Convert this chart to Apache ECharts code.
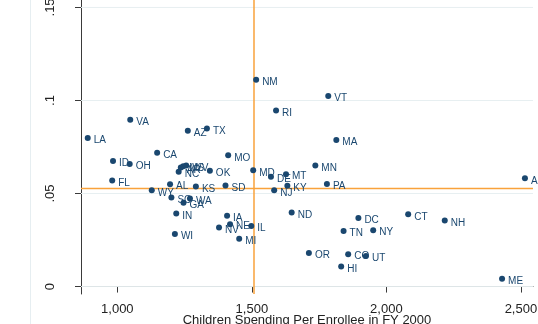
<!DOCTYPE html>
<html>
<head>
<meta charset="utf-8">
<script src="https://cdn.jsdelivr.net/npm/echarts@6/dist/echarts.min.js"></script>
<style>
  html, body { margin: 0; padding: 0; background: #fff; }
  #chart { width: 538px; height: 324px; }
</style>
</head>
<body>
<div id="chart"></div>
<script>
// State abbreviations, spending per enrollee (x) and share (y)
const states = ['NM','VT','RI','VA','AZ','TX','LA','CA','MO','ID','OH','WV','MS','AR','NC','OK','MD','DE','MT','MN','MA','AK','FL','AL','KS','SD','PA','KY','NJ','WY','SC','WA','GA','IN','ND','IA','DC','CT','NH','NE','NV','IL','TN','NY','WI','MI','OR','CO','UT','HI','ME'];
const spending = [1516,1784,1590,1048,1262,1333,890,1148,1412,984,1046,1256,1245,1236,1228,1344,1505,1571,1627,1736,1814,2515,981,1196,1292,1402,1779,1632,1583,1128,1201,1270,1246,1219,1648,1408,1896,2081,2217,1419,1378,1498,1841,1951,1214,1453,1712,1858,1924,1832,2430];
const share = [0.1112,0.1024,0.0946,0.0897,0.0838,0.0849,0.0799,0.0719,0.0705,0.0675,0.0659,0.0651,0.0647,0.0640,0.0617,0.0623,0.0625,0.0590,0.0604,0.0651,0.0788,0.0582,0.0570,0.0550,0.0538,0.0543,0.0551,0.0542,0.0517,0.0517,0.0478,0.0473,0.0450,0.0393,0.0398,0.0381,0.0369,0.0388,0.0355,0.0335,0.0318,0.0325,0.0298,0.0303,0.0283,0.0257,0.0181,0.0174,0.0164,0.0108,0.0042];

const xTicks = [1000, 1500, 2000, 2500];
const yTicks = [0, 0.05, 0.1, 0.15];
const meanSpending = 1508;
const meanShare = 0.0527;

const xMin = 865, xMax = 2545;
const yMin = -0.004, yMax = 0.154;

const navy = '#1a476f';
const orange = '#f9a23b';

const points = states.map((s, i) => ({ name: s, value: [spending[i], share[i]] }));

const chart = echarts.init(document.getElementById('chart'), null, { renderer: 'canvas' });
chart.setOption({
  animation: false,
  backgroundColor: '#ffffff',
  graphic: [{
    type: 'line', z: -10,
    shape: { x1: 30.5, y1: 0, x2: 30.5, y2: 324 },
    style: { stroke: '#e6eef1', lineWidth: 1 }
  }],
  grid: { left: 81, right: 5, top: 0, bottom: 30, outerBoundsMode: 'none' },
  xAxis: {
    type: 'value', min: xMin, max: xMax,
    axisLine: { show: true, lineStyle: { color: '#3a3a3a', width: 1 } },
    axisTick: { show: true, length: 6, customValues: xTicks, lineStyle: { color: '#3a3a3a' } },
    axisLabel: {
      customValues: xTicks, margin: 9, color: '#222', fontSize: 13,
      fontFamily: 'Liberation Sans, Arial, sans-serif',
      formatter: v => Number(v).toLocaleString('en-US')
    },
    splitLine: { show: false },
    name: 'Children Spending Per Enrollee in FY 2000',
    nameLocation: 'middle', nameGap: 20, nameMoveOverlap: false,
    nameTextStyle: { color: '#222', fontSize: 13, fontFamily: 'Liberation Sans, Arial, sans-serif' }
  },
  yAxis: {
    type: 'value', min: yMin, max: yMax,
    axisLine: { show: true, lineStyle: { color: '#3a3a3a', width: 1 } },
    axisTick: { show: true, length: 6, customValues: yTicks, lineStyle: { color: '#3a3a3a' } },
    axisLabel: {
      customValues: yTicks, rotate: 90, margin: 24, color: '#222', fontSize: 13,
      fontFamily: 'Liberation Sans, Arial, sans-serif',
      formatter: v => String(+Number(v).toFixed(2)).replace(/^0\./, '.')
    },
    splitLine: { show: false }
  },
  series: [
    // horizontal reference grid
    ...yTicks.map(t => ({
      type: 'line', silent: true, z: 1, symbol: 'none',
      lineStyle: { color: '#e7eff1', width: 1 },
      data: [[xMin, t], [xMax, t]]
    })),
    // mean lines
    {
      type: 'line', silent: true, z: 2, symbol: 'none',
      lineStyle: { color: orange, width: 1.5 },
      data: [[meanSpending, yMin], [meanSpending, yMax]]
    },
    {
      type: 'line', silent: true, z: 2, symbol: 'none',
      lineStyle: { color: orange, width: 1.5 },
      data: [[xMin, meanShare], [xMax, meanShare]]
    },
    {
      type: 'scatter', z: 5,
      symbol: 'circle', symbolSize: 6,
      itemStyle: { color: navy, opacity: 1 },
      clip: false,
      data: points,
      label: {
        show: true, position: 'right', distance: 3, offset: [0, 2.5],
        formatter: '{b}', color: navy, fontSize: 10,
        fontFamily: 'Liberation Sans, Arial, sans-serif'
      }
    }
  ]
});
</script>
</body>
</html>
